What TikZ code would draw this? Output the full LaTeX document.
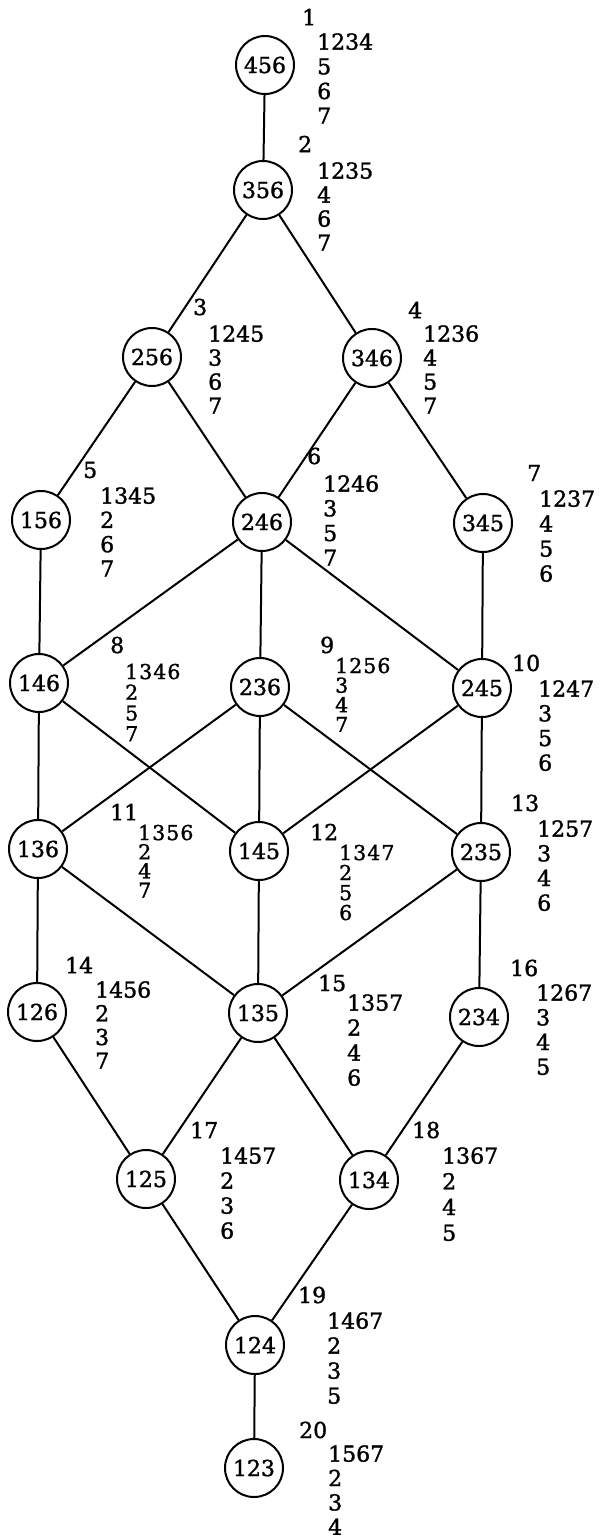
\documentclass[tikz,border=0pt]{standalone}
\usepackage{fontspec}
\setmainfont{DejaVu Serif}[FakeBold=1.4]
\begin{document}
\begin{tikzpicture}[x=1pt,y=-1pt,
  vtx/.style={circle,draw,line width=2pt,minimum size=58pt,inner sep=0pt,
              font=\fontsize{22}{24}\selectfont},
  edge/.style={line width=2pt},
  idx/.style={anchor=west,inner sep=0pt,font=\fontsize{22}{24}\selectfont},
  stk/.style={anchor=north west,inner sep=0pt,align=left}]
\useasboundingbox (0,0) rectangle (599,1539);

% vertices of the lattice
\node[vtx] (n456) at (265,65)   {456};
\node[vtx] (n356) at (263,190)  {356};
\node[vtx] (n256) at (152,357)  {256};
\node[vtx] (n346) at (372,358)  {346};
\node[vtx] (n156) at (41,520)   {156};
\node[vtx] (n246) at (262,522)  {246};
\node[vtx] (n345) at (483,523)  {345};
\node[vtx] (n146) at (39,683)   {146};
\node[vtx] (n236) at (260,687)  {236};
\node[vtx] (n245) at (482,688)  {245};
\node[vtx] (n136) at (38,849)   {136};
\node[vtx] (n145) at (259,851)  {145};
\node[vtx] (n235) at (481,852)  {235};
\node[vtx] (n126) at (37,1012)  {126};
\node[vtx] (n135) at (258,1013) {135};
\node[vtx] (n234) at (479,1017) {234};
\node[vtx] (n125) at (146,1179) {125};
\node[vtx] (n134) at (369,1180) {134};
\node[vtx] (n124) at (255,1345) {124};
\node[vtx] (n123) at (254,1468) {123};

% covering relations
\foreach \a/\b in {456/356, 356/256, 356/346, 256/156, 256/246, 346/246,
  346/345, 156/146, 246/146, 246/236, 246/245, 345/245, 146/136, 146/145,
  236/136, 236/145, 236/235, 245/145, 245/235, 136/126, 136/135, 145/135,
  235/135, 235/234, 126/125, 135/125, 135/134, 234/134, 125/124, 134/124,
  124/123}
  \draw[edge] (n\a) -- (n\b);

% numbered labels: index, then a column of entries
% #1 name, #2,#3 index position, #4 index, #5,#6 first entry,
% #7 line spacing, #8 entries, #9 entry size
\newcommand\lbl[9]{%
  \node[idx] (#1i) at (#2,#3) {#4};
  \node[stk,font=\fontsize{#9}{#7}\selectfont] (#1s) at (#5,#6-#9*0.36) {#8};}
% tighter columns set with a little letter spacing
\newcommand\tight[1]{\addfontfeature{LetterSpace=5}#1}
\lbl{l1}{302}{17}{1}{317}{41}{24.7}{1234\\5\\6\\7}{22}
\lbl{l2}{298}{144}{2}{317}{170}{24}{1235\\4\\6\\7}{22}
\lbl{l3}{193}{307}{3}{208}{333}{24}{1245\\3\\6\\7}{22}
\lbl{l4}{408}{310}{4}{423}{333}{24}{1236\\4\\5\\7}{22}
\lbl{l5}{83}{470}{5}{100}{495}{24.3}{1345\\2\\6\\7}{22}
\lbl{l6}{307}{456}{6}{323}{483}{24.7}{1246\\3\\5\\7}{22}
\lbl{l7}{527}{473}{7}{539}{498}{25}{1237\\4\\5\\6}{22}
\lbl{l8}{110}{645}{8}{125}{671}{20.7}{\tight{1346}\\2\\5\\7}{20.5}
\lbl{l9}{320}{645}{9}{335}{665}{19.6}{\tight{1256}\\3\\4\\7}{20.5}
\lbl{l10}{512}{663}{10}{538}{688}{24.7}{1247\\3\\5\\6}{22}
\lbl{l11}{110}{812}{11}{138}{832}{19.2}{\tight{1356}\\2\\4\\7}{20.5}
\lbl{l12}{310}{832}{12}{339}{852}{20}{\tight{1347}\\2\\5\\6}{20.5}
\lbl{l13}{511}{803}{13}{537}{828}{24.7}{1257\\3\\4\\6}{22}
\lbl{l14}{65}{965}{14}{95}{989}{23.7}{1456\\2\\3\\7}{22}
\lbl{l15}{318}{983}{15}{347}{1002}{25}{1357\\2\\4\\6}{22}
\lbl{l16}{510}{968}{16}{536}{992}{24.7}{1267\\3\\4\\5}{22}
\lbl{l17}{190}{1130}{17}{220}{1155}{25}{1457\\2\\3\\6}{22}
\lbl{l18}{412}{1130}{18}{442}{1155}{25.7}{1367\\2\\4\\5}{22}
\lbl{l19}{298}{1295}{19}{327}{1320}{25}{1467\\2\\3\\5}{22}
\lbl{l20}{299}{1430}{20}{328}{1453}{24.4}{1567\\2\\3\\4}{22}
\end{tikzpicture}
\end{document}
